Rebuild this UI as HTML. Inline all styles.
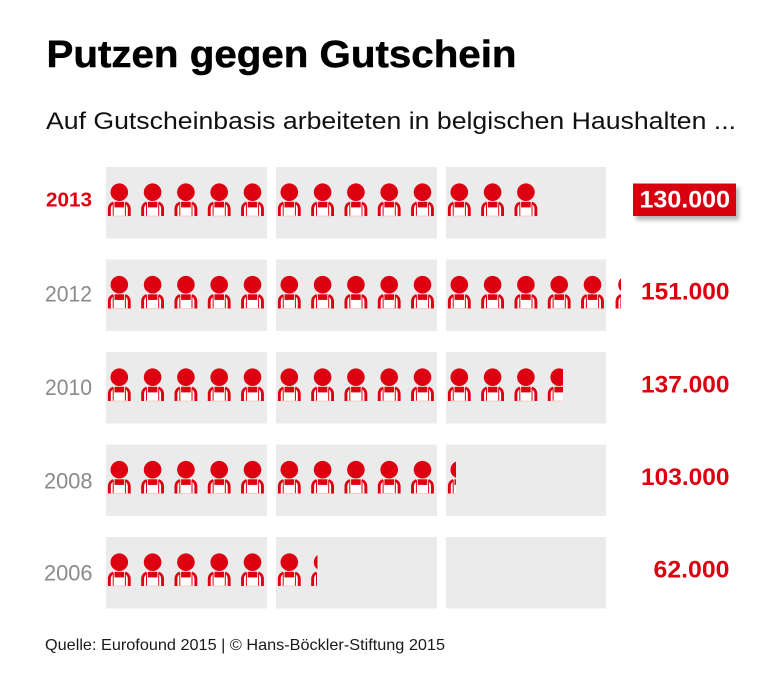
<!DOCTYPE html>
<html>
<head>
<meta charset="utf-8">
<style>
  html, body { margin: 0; padding: 0; background: #ffffff; }
  body { width: 768px; height: 679px; overflow: hidden; }
  svg { display: block; }
  text { font-family: "Liberation Sans", Arial, sans-serif; }
</style>
</head>
<body>
<svg width="768" height="679" viewBox="0 0 768 679" xmlns="http://www.w3.org/2000/svg">
  <defs>
    <symbol id="p" viewBox="0 0 24 33" width="24" height="33" overflow="visible">
      <circle cx="12" cy="8.2" r="8.8" fill="#dd0011"/>
      <rect x="3.3" y="18.2" width="17.4" height="13.8" fill="#ffffff"/>
      <rect x="7.2" y="17.8" width="9.6" height="5.6" fill="#dd0011"/>
      <rect x="5.4" y="20" width="1" height="12" fill="#dd0011"/>
      <rect x="17.6" y="20" width="1" height="12" fill="#dd0011"/>
      <path d="M5.5,17.6 C2.3,19 0.6,21.5 0.6,25 L0.6,32 L3.5,32 L3.5,25 C3.5,22.5 4.7,20.6 6.8,19.6 Z" fill="#dd0011"/>
      <path d="M18.5,17.6 C21.7,19 23.4,21.5 23.4,25 L23.4,32 L20.5,32 L20.5,25 C20.5,22.5 19.3,20.6 17.2,19.6 Z" fill="#dd0011"/>
      <rect x="3.5" y="31.6" width="17" height="0.9" fill="#f4c8c0"/>
    </symbol>
    <clipPath id="c12" clipPathUnits="userSpaceOnUse"><rect x="615" y="260" width="6" height="60"/></clipPath>
    <clipPath id="c10" clipPathUnits="userSpaceOnUse"><rect x="547" y="352" width="16" height="60"/></clipPath>
    <clipPath id="c08" clipPathUnits="userSpaceOnUse"><rect x="447" y="445" width="9" height="60"/></clipPath>
    <clipPath id="c06" clipPathUnits="userSpaceOnUse"><rect x="310" y="537" width="7.5" height="60"/></clipPath>
    <filter id="sh" x="-20%" y="-40%" width="140%" height="180%">
      <feGaussianBlur stdDeviation="2"/>
    </filter>
  </defs>

  <!-- Title -->
  <text x="46.5" y="67" font-size="38" font-weight="bold" fill="#000" stroke="#000" stroke-width="0.5" textLength="470" lengthAdjust="spacingAndGlyphs">Putzen gegen Gutschein</text>
  <!-- Subtitle -->
  <text x="46" y="129" font-size="24.5" fill="#111" textLength="690" lengthAdjust="spacingAndGlyphs">Auf Gutscheinbasis arbeiteten in belgischen Haushalten ...</text>

  <!-- Panels -->
  <g fill="#ebebeb">
    <rect x="106" y="167" width="161" height="71.5"/>
    <rect x="276" y="167" width="161" height="71.5"/>
    <rect x="446" y="167" width="160" height="71.5"/>

    <rect x="106" y="259.5" width="161" height="71.5"/>
    <rect x="276" y="259.5" width="161" height="71.5"/>
    <rect x="446" y="259.5" width="160" height="71.5"/>

    <rect x="106" y="352" width="161" height="71.5"/>
    <rect x="276" y="352" width="161" height="71.5"/>
    <rect x="446" y="352" width="160" height="71.5"/>

    <rect x="106" y="444.5" width="161" height="71.5"/>
    <rect x="276" y="444.5" width="161" height="71.5"/>
    <rect x="446" y="444.5" width="160" height="71.5"/>

    <rect x="106" y="537" width="161" height="71.5"/>
    <rect x="276" y="537" width="161" height="71.5"/>
    <rect x="446" y="537" width="160" height="71.5"/>
  </g>

  <!-- Year labels -->
  <text x="92" y="206.7" font-size="20.5" font-weight="bold" fill="#dd0011" text-anchor="end" textLength="46" lengthAdjust="spacingAndGlyphs">2013</text>
  <text x="92" y="301.5" font-size="22" fill="#8a8a8a" text-anchor="end" textLength="47" lengthAdjust="spacingAndGlyphs">2012</text>
  <text x="92" y="395" font-size="22" fill="#8a8a8a" text-anchor="end" textLength="47" lengthAdjust="spacingAndGlyphs">2010</text>
  <text x="92.5" y="488.3" font-size="22" fill="#8a8a8a" text-anchor="end" textLength="48.5" lengthAdjust="spacingAndGlyphs">2008</text>
  <text x="92.5" y="580.5" font-size="22" fill="#8a8a8a" text-anchor="end" textLength="48.5" lengthAdjust="spacingAndGlyphs">2006</text>

  <!-- 2013: 13 icons -->
  <g>
    <use href="#p" x="107.3" y="184"/>
    <use href="#p" x="140.6" y="184"/>
    <use href="#p" x="173.9" y="184"/>
    <use href="#p" x="207.2" y="184"/>
    <use href="#p" x="240.5" y="184"/>
    <use href="#p" x="277.3" y="184"/>
    <use href="#p" x="310.6" y="184"/>
    <use href="#p" x="343.9" y="184"/>
    <use href="#p" x="377.2" y="184"/>
    <use href="#p" x="410.5" y="184"/>
    <use href="#p" x="447.3" y="184"/>
    <use href="#p" x="480.6" y="184"/>
    <use href="#p" x="513.9" y="184"/>
  </g>

  <!-- 2012: 15 icons + partial -->
  <g>
    <use href="#p" x="107.3" y="276.5"/>
    <use href="#p" x="140.6" y="276.5"/>
    <use href="#p" x="173.9" y="276.5"/>
    <use href="#p" x="207.2" y="276.5"/>
    <use href="#p" x="240.5" y="276.5"/>
    <use href="#p" x="277.3" y="276.5"/>
    <use href="#p" x="310.6" y="276.5"/>
    <use href="#p" x="343.9" y="276.5"/>
    <use href="#p" x="377.2" y="276.5"/>
    <use href="#p" x="410.5" y="276.5"/>
    <use href="#p" x="447.3" y="276.5"/>
    <use href="#p" x="480.6" y="276.5"/>
    <use href="#p" x="513.9" y="276.5"/>
    <use href="#p" x="547.2" y="276.5"/>
    <use href="#p" x="580.5" y="276.5"/>
    <g clip-path="url(#c12)"><use href="#p" x="615" y="276.5"/></g>
  </g>

  <!-- 2010: 13 icons + partial -->
  <g>
    <use href="#p" x="107.3" y="369"/>
    <use href="#p" x="140.6" y="369"/>
    <use href="#p" x="173.9" y="369"/>
    <use href="#p" x="207.2" y="369"/>
    <use href="#p" x="240.5" y="369"/>
    <use href="#p" x="277.3" y="369"/>
    <use href="#p" x="310.6" y="369"/>
    <use href="#p" x="343.9" y="369"/>
    <use href="#p" x="377.2" y="369"/>
    <use href="#p" x="410.5" y="369"/>
    <use href="#p" x="447.3" y="369"/>
    <use href="#p" x="480.6" y="369"/>
    <use href="#p" x="513.9" y="369"/>
    <g clip-path="url(#c10)"><use href="#p" x="547.2" y="369"/></g>
  </g>

  <!-- 2008: 10 icons + partial -->
  <g>
    <use href="#p" x="107.3" y="461.5"/>
    <use href="#p" x="140.6" y="461.5"/>
    <use href="#p" x="173.9" y="461.5"/>
    <use href="#p" x="207.2" y="461.5"/>
    <use href="#p" x="240.5" y="461.5"/>
    <use href="#p" x="277.3" y="461.5"/>
    <use href="#p" x="310.6" y="461.5"/>
    <use href="#p" x="343.9" y="461.5"/>
    <use href="#p" x="377.2" y="461.5"/>
    <use href="#p" x="410.5" y="461.5"/>
    <g clip-path="url(#c08)"><use href="#p" x="447.3" y="461.5"/></g>
  </g>

  <!-- 2006: 6 icons + partial -->
  <g>
    <use href="#p" x="107.3" y="554"/>
    <use href="#p" x="140.6" y="554"/>
    <use href="#p" x="173.9" y="554"/>
    <use href="#p" x="207.2" y="554"/>
    <use href="#p" x="240.5" y="554"/>
    <use href="#p" x="277.3" y="554"/>
    <g clip-path="url(#c06)"><use href="#p" x="310.6" y="554"/></g>
  </g>

  <!-- Values -->
  <rect x="636" y="187.5" width="103" height="32.5" fill="#777" opacity="0.55" filter="url(#sh)"/>
  <rect x="633" y="183.5" width="103" height="32.5" fill="#d7000f"/>
  <text x="730" y="207.5" font-size="24" font-weight="bold" fill="#ffffff" text-anchor="end" textLength="90.5" lengthAdjust="spacingAndGlyphs">130.000</text>

  <text x="729.5" y="299.5" font-size="24" font-weight="bold" fill="#dd0011" text-anchor="end" textLength="88.5" lengthAdjust="spacingAndGlyphs">151.000</text>
  <text x="729.5" y="392.5" font-size="24" font-weight="bold" fill="#dd0011" text-anchor="end" textLength="88.5" lengthAdjust="spacingAndGlyphs">137.000</text>
  <text x="729.5" y="485" font-size="24" font-weight="bold" fill="#dd0011" text-anchor="end" textLength="88.5" lengthAdjust="spacingAndGlyphs">103.000</text>
  <text x="729.5" y="577.5" font-size="24" font-weight="bold" fill="#dd0011" text-anchor="end" textLength="76" lengthAdjust="spacingAndGlyphs">62.000</text>

  <!-- Footer -->
  <text x="45" y="650" font-size="16" fill="#1a1a1a" textLength="400" lengthAdjust="spacingAndGlyphs">Quelle: Eurofound 2015 | © Hans-Böckler-Stiftung 2015</text>
</svg>
</body>
</html>
